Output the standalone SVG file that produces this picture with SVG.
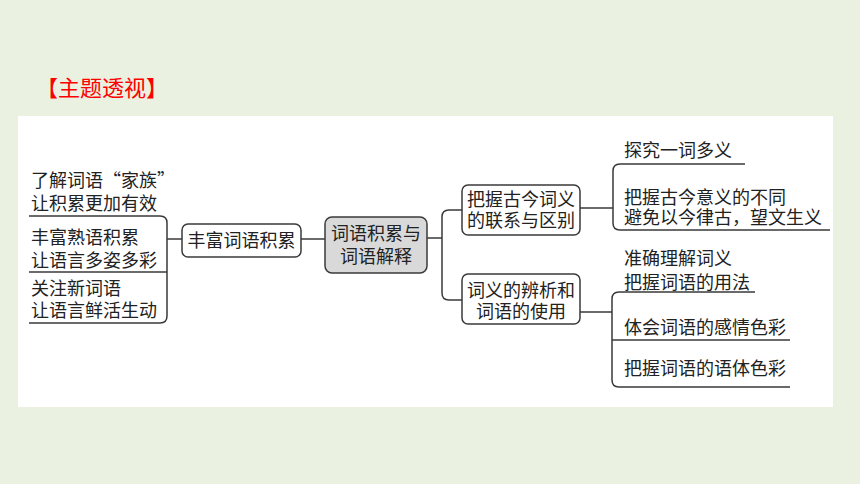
<svg xmlns="http://www.w3.org/2000/svg" width="860" height="484" viewBox="0 0 860 484">
<style>
.t{font-family:"Noto Sans CJK SC","Noto Sans CJK JP",sans-serif;font-size:18px;fill:#222}
.c{text-anchor:middle}
.ln{fill:none;stroke:#3a3a3a;stroke-width:1.5}
.bx{fill:#fff;stroke:#3a3a3a;stroke-width:1.5}
</style>
<rect x="0" y="0" width="860" height="484" fill="#ebf1e1"/>
<rect x="18" y="116" width="815" height="291" fill="#fff"/>
<text x="36" y="96" style="font-family:'Noto Sans CJK SC',sans-serif;font-size:22px;fill:#ff0000">【主题透视】</text>
<g id="connectors">
<path class="ln" d="M29,216 H160 Q167,216 167,223 V316 Q167,323 160,323 H29"/>
<path class="ln" d="M29,272 H167"/>
<path class="ln" d="M167,239 H182"/>
<path class="ln" d="M301,239 H325"/>
<path class="ln" d="M427,238 H442"/>
<path class="ln" d="M462,210 H449 Q442,210 442,217 V293 Q442,300 449,300 H462"/>
<path class="ln" d="M580,208 H613"/>
<path class="ln" d="M745,164 H620 Q613,164 613,171 V223 Q613,230 620,230 H830"/>
<path class="ln" d="M580,312 H612"/>
<path class="ln" d="M755,292 H619 Q612,292 612,299 V380 Q612,387 619,387 H790"/>
<path class="ln" d="M612,340 H790"/>
</g>
<g id="left1"><text class="t" x="31" y="187">了解词语“家族”<tspan x="31" y="210">让积累更加有效</tspan></text></g>
<g id="left2"><text class="t" x="31" y="244">丰富熟语积累<tspan x="31" y="267">让语言多姿多彩</tspan></text></g>
<g id="left3"><text class="t" x="31" y="295">关注新词语<tspan x="31" y="317">让语言鲜活生动</tspan></text></g>
<g id="n-fengfu"><rect class="bx" x="182" y="224" width="119" height="33" rx="6"/><text class="t c" x="241.5" y="247">丰富词语积累</text></g>
<g id="n-center"><rect class="bx" x="325" y="217" width="102" height="56" rx="7" style="fill:#d9d9d9"/><text class="t c" x="376" y="240">词语积累与<tspan x="376" y="263">词语解释</tspan></text></g>
<g id="n-guji"><rect class="bx" x="462" y="185" width="118" height="50" rx="6"/><text class="t c" x="521" y="206">把握古今词义<tspan x="521" y="227">的联系与区别</tspan></text></g>
<g id="n-bianxi"><rect class="bx" x="462" y="274" width="118" height="50" rx="6"/><text class="t c" x="521" y="297">词义的辨析和<tspan x="521" y="318">词语的使用</tspan></text></g>
<g id="r1"><text class="t" x="624" y="157">探究一词多义</text></g>
<g id="r2"><text class="t" x="624" y="204">把握古今意义的不同<tspan x="624" y="224">避免以今律古，望文生义</tspan></text></g>
<g id="r3"><text class="t" x="624" y="265">准确理解词义<tspan x="624" y="289">把握词语的用法</tspan></text></g>
<g id="r4"><text class="t" x="624" y="334">体会词语的感情色彩</text></g>
<g id="r5"><text class="t" x="624" y="375">把握词语的语体色彩</text></g>
</svg>
